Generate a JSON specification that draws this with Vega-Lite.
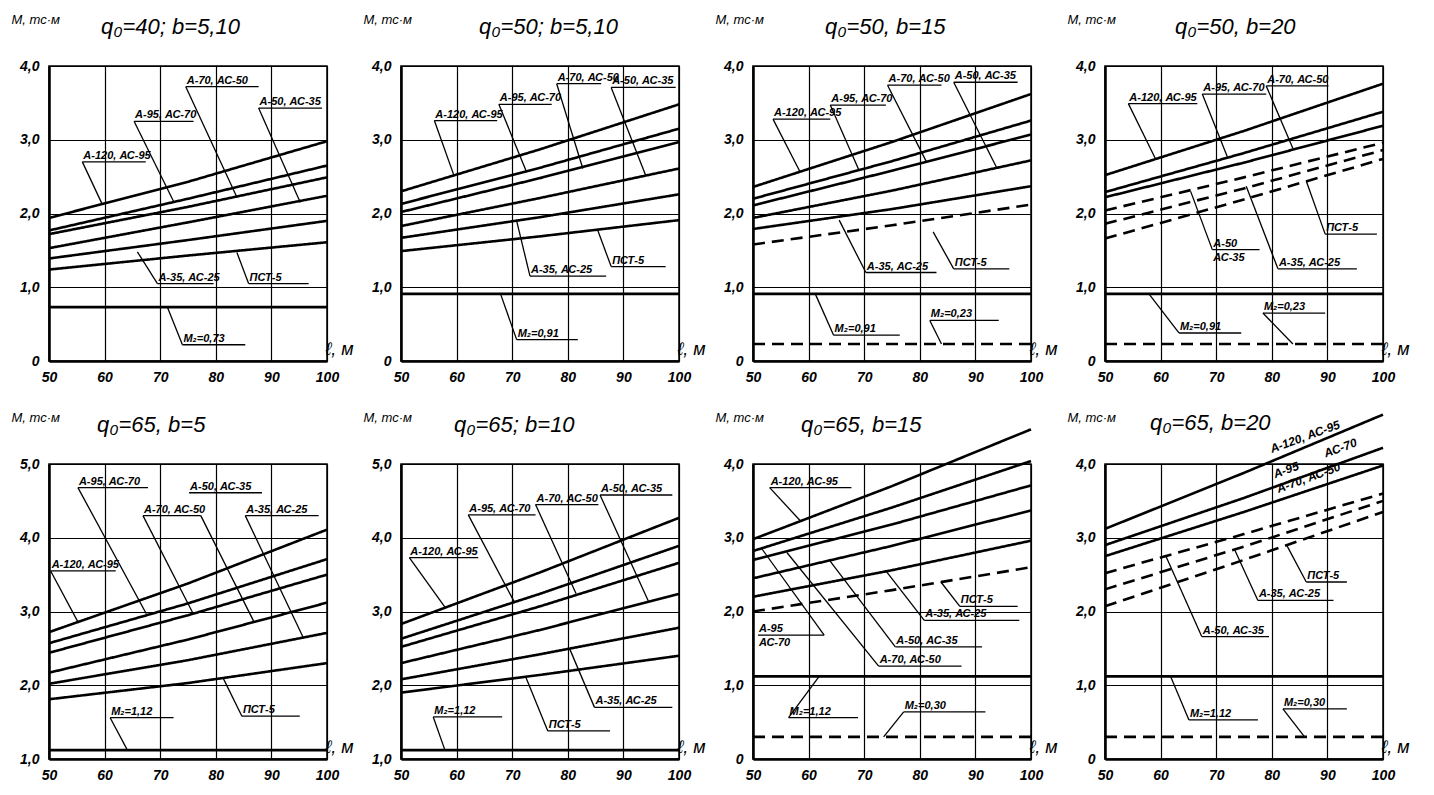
{
  "$schema": "https://vega.github.io/schema/vega-lite/v6.json",
  "padding": {"left": 10, "top": 12, "right": 5, "bottom": 5},
  "background": "white",
  "datasets": {
    "curves": [
      {"p":1,"s":"A120","k":"solid","l":50,"M":1.94},{"p":1,"s":"A120","k":"solid","l":75,"M":2.43},{"p":1,"s":"A120","k":"solid","l":100,"M":2.98},
      {"p":1,"s":"A95","k":"solid","l":50,"M":1.77},{"p":1,"s":"A95","k":"solid","l":75,"M":2.20},{"p":1,"s":"A95","k":"solid","l":100,"M":2.65},
      {"p":1,"s":"A70","k":"solid","l":50,"M":1.72},{"p":1,"s":"A70","k":"solid","l":75,"M":2.09},{"p":1,"s":"A70","k":"solid","l":100,"M":2.49},
      {"p":1,"s":"A50","k":"solid","l":50,"M":1.53},{"p":1,"s":"A50","k":"solid","l":75,"M":1.88},{"p":1,"s":"A50","k":"solid","l":100,"M":2.24},
      {"p":1,"s":"A35","k":"solid","l":50,"M":1.39},{"p":1,"s":"A35","k":"solid","l":75,"M":1.64},{"p":1,"s":"A35","k":"solid","l":100,"M":1.90},
      {"p":1,"s":"PST","k":"solid","l":50,"M":1.24},{"p":1,"s":"PST","k":"solid","l":75,"M":1.43},{"p":1,"s":"PST","k":"solid","l":100,"M":1.61},
      {"p":1,"s":"M2","k":"solid","l":50,"M":0.73},{"p":1,"s":"M2","k":"solid","l":100,"M":0.73},

      {"p":2,"s":"A120","k":"solid","l":50,"M":2.30},{"p":2,"s":"A120","k":"solid","l":75,"M":2.87},{"p":2,"s":"A120","k":"solid","l":100,"M":3.48},
      {"p":2,"s":"A95","k":"solid","l":50,"M":2.13},{"p":2,"s":"A95","k":"solid","l":75,"M":2.62},{"p":2,"s":"A95","k":"solid","l":100,"M":3.15},
      {"p":2,"s":"A70","k":"solid","l":50,"M":2.02},{"p":2,"s":"A70","k":"solid","l":75,"M":2.48},{"p":2,"s":"A70","k":"solid","l":100,"M":2.97},
      {"p":2,"s":"A50","k":"solid","l":50,"M":1.83},{"p":2,"s":"A50","k":"solid","l":75,"M":2.21},{"p":2,"s":"A50","k":"solid","l":100,"M":2.61},
      {"p":2,"s":"A35","k":"solid","l":50,"M":1.67},{"p":2,"s":"A35","k":"solid","l":75,"M":1.95},{"p":2,"s":"A35","k":"solid","l":100,"M":2.26},
      {"p":2,"s":"PST","k":"solid","l":50,"M":1.49},{"p":2,"s":"PST","k":"solid","l":75,"M":1.69},{"p":2,"s":"PST","k":"solid","l":100,"M":1.91},
      {"p":2,"s":"M2","k":"solid","l":50,"M":0.91},{"p":2,"s":"M2","k":"solid","l":100,"M":0.91},

      {"p":3,"s":"A120","k":"solid","l":50,"M":2.36},{"p":3,"s":"A120","k":"solid","l":75,"M":2.97},{"p":3,"s":"A120","k":"solid","l":100,"M":3.62},
      {"p":3,"s":"A95","k":"solid","l":50,"M":2.20},{"p":3,"s":"A95","k":"solid","l":75,"M":2.71},{"p":3,"s":"A95","k":"solid","l":100,"M":3.26},
      {"p":3,"s":"A70","k":"solid","l":50,"M":2.11},{"p":3,"s":"A70","k":"solid","l":75,"M":2.58},{"p":3,"s":"A70","k":"solid","l":100,"M":3.07},
      {"p":3,"s":"A50","k":"solid","l":50,"M":1.94},{"p":3,"s":"A50","k":"solid","l":75,"M":2.31},{"p":3,"s":"A50","k":"solid","l":100,"M":2.72},
      {"p":3,"s":"A35","k":"solid","l":50,"M":1.79},{"p":3,"s":"A35","k":"solid","l":75,"M":2.06},{"p":3,"s":"A35","k":"solid","l":100,"M":2.37},
      {"p":3,"s":"PST","k":"dashed","l":50,"M":1.58},{"p":3,"s":"PST","k":"dashed","l":75,"M":1.84},{"p":3,"s":"PST","k":"dashed","l":100,"M":2.12},
      {"p":3,"s":"M2","k":"solid","l":50,"M":0.91},{"p":3,"s":"M2","k":"solid","l":100,"M":0.91},
      {"p":3,"s":"M2b","k":"dashed","l":50,"M":0.23},{"p":3,"s":"M2b","k":"dashed","l":100,"M":0.23},

      {"p":4,"s":"A120","k":"solid","l":50,"M":2.52},{"p":4,"s":"A120","k":"solid","l":75,"M":3.12},{"p":4,"s":"A120","k":"solid","l":100,"M":3.76},
      {"p":4,"s":"A95","k":"solid","l":50,"M":2.29},{"p":4,"s":"A95","k":"solid","l":75,"M":2.82},{"p":4,"s":"A95","k":"solid","l":100,"M":3.38},
      {"p":4,"s":"A70","k":"solid","l":50,"M":2.22},{"p":4,"s":"A70","k":"solid","l":75,"M":2.69},{"p":4,"s":"A70","k":"solid","l":100,"M":3.19},
      {"p":4,"s":"A50","k":"dashed","l":50,"M":2.04},{"p":4,"s":"A50","k":"dashed","l":75,"M":2.49},{"p":4,"s":"A50","k":"dashed","l":100,"M":2.96},
      {"p":4,"s":"A35","k":"dashed","l":50,"M":1.86},{"p":4,"s":"A35","k":"dashed","l":75,"M":2.34},{"p":4,"s":"A35","k":"dashed","l":100,"M":2.86},
      {"p":4,"s":"PST","k":"dashed","l":50,"M":1.66},{"p":4,"s":"PST","k":"dashed","l":75,"M":2.19},{"p":4,"s":"PST","k":"dashed","l":100,"M":2.74},
      {"p":4,"s":"M2","k":"solid","l":50,"M":0.91},{"p":4,"s":"M2","k":"solid","l":100,"M":0.91},
      {"p":4,"s":"M2b","k":"dashed","l":50,"M":0.23},{"p":4,"s":"M2b","k":"dashed","l":100,"M":0.23},

      {"p":5,"s":"A120","k":"solid","l":50,"M":2.72},{"p":5,"s":"A120","k":"solid","l":75,"M":3.38},{"p":5,"s":"A120","k":"solid","l":100,"M":4.11},
      {"p":5,"s":"A95","k":"solid","l":50,"M":2.57},{"p":5,"s":"A95","k":"solid","l":75,"M":3.11},{"p":5,"s":"A95","k":"solid","l":100,"M":3.71},
      {"p":5,"s":"A70","k":"solid","l":50,"M":2.44},{"p":5,"s":"A70","k":"solid","l":75,"M":2.95},{"p":5,"s":"A70","k":"solid","l":100,"M":3.50},
      {"p":5,"s":"A50","k":"solid","l":50,"M":2.17},{"p":5,"s":"A50","k":"solid","l":75,"M":2.62},{"p":5,"s":"A50","k":"solid","l":100,"M":3.12},
      {"p":5,"s":"A35","k":"solid","l":50,"M":2.02},{"p":5,"s":"A35","k":"solid","l":75,"M":2.34},{"p":5,"s":"A35","k":"solid","l":100,"M":2.71},
      {"p":5,"s":"PST","k":"solid","l":50,"M":1.81},{"p":5,"s":"PST","k":"solid","l":75,"M":2.03},{"p":5,"s":"PST","k":"solid","l":100,"M":2.30},
      {"p":5,"s":"M2","k":"solid","l":50,"M":1.12},{"p":5,"s":"M2","k":"solid","l":100,"M":1.12},

      {"p":6,"s":"A120","k":"solid","l":50,"M":2.83},{"p":6,"s":"A120","k":"solid","l":75,"M":3.53},{"p":6,"s":"A120","k":"solid","l":100,"M":4.27},
      {"p":6,"s":"A95","k":"solid","l":50,"M":2.63},{"p":6,"s":"A95","k":"solid","l":75,"M":3.24},{"p":6,"s":"A95","k":"solid","l":100,"M":3.89},
      {"p":6,"s":"A70","k":"solid","l":50,"M":2.52},{"p":6,"s":"A70","k":"solid","l":75,"M":3.07},{"p":6,"s":"A70","k":"solid","l":100,"M":3.66},
      {"p":6,"s":"A50","k":"solid","l":50,"M":2.30},{"p":6,"s":"A50","k":"solid","l":75,"M":2.75},{"p":6,"s":"A50","k":"solid","l":100,"M":3.24},
      {"p":6,"s":"A35","k":"solid","l":50,"M":2.08},{"p":6,"s":"A35","k":"solid","l":75,"M":2.42},{"p":6,"s":"A35","k":"solid","l":100,"M":2.78},
      {"p":6,"s":"PST","k":"solid","l":50,"M":1.90},{"p":6,"s":"PST","k":"solid","l":75,"M":2.14},{"p":6,"s":"PST","k":"solid","l":100,"M":2.40},
      {"p":6,"s":"M2","k":"solid","l":50,"M":1.12},{"p":6,"s":"M2","k":"solid","l":100,"M":1.12},

      {"p":7,"s":"A120","k":"solid","l":50,"M":2.98},{"p":7,"s":"A120","k":"solid","l":75,"M":3.70},{"p":7,"s":"A120","k":"solid","l":100,"M":4.47},
      {"p":7,"s":"A95","k":"solid","l":50,"M":2.82},{"p":7,"s":"A95","k":"solid","l":75,"M":3.41},{"p":7,"s":"A95","k":"solid","l":100,"M":4.04},
      {"p":7,"s":"A70","k":"solid","l":50,"M":2.70},{"p":7,"s":"A70","k":"solid","l":75,"M":3.18},{"p":7,"s":"A70","k":"solid","l":100,"M":3.71},
      {"p":7,"s":"A50","k":"solid","l":50,"M":2.45},{"p":7,"s":"A50","k":"solid","l":75,"M":2.89},{"p":7,"s":"A50","k":"solid","l":100,"M":3.37},
      {"p":7,"s":"A35","k":"solid","l":50,"M":2.20},{"p":7,"s":"A35","k":"solid","l":75,"M":2.56},{"p":7,"s":"A35","k":"solid","l":100,"M":2.96},
      {"p":7,"s":"PST","k":"dashed","l":50,"M":2.00},{"p":7,"s":"PST","k":"dashed","l":75,"M":2.29},{"p":7,"s":"PST","k":"dashed","l":100,"M":2.60},
      {"p":7,"s":"M2","k":"solid","l":50,"M":1.12},{"p":7,"s":"M2","k":"solid","l":100,"M":1.12},
      {"p":7,"s":"M2b","k":"dashed","l":50,"M":0.30},{"p":7,"s":"M2b","k":"dashed","l":100,"M":0.30},

      {"p":8,"s":"A120","k":"solid","l":50,"M":3.12},{"p":8,"s":"A120","k":"solid","l":75,"M":3.88},{"p":8,"s":"A120","k":"solid","l":100,"M":4.67},
      {"p":8,"s":"A95","k":"solid","l":50,"M":2.90},{"p":8,"s":"A95","k":"solid","l":75,"M":3.54},{"p":8,"s":"A95","k":"solid","l":100,"M":4.22},
      {"p":8,"s":"A70","k":"solid","l":50,"M":2.75},{"p":8,"s":"A70","k":"solid","l":75,"M":3.35},{"p":8,"s":"A70","k":"solid","l":100,"M":3.98},
      {"p":8,"s":"A50","k":"dashed","l":50,"M":2.52},{"p":8,"s":"A50","k":"dashed","l":75,"M":3.05},{"p":8,"s":"A50","k":"dashed","l":100,"M":3.60},
      {"p":8,"s":"A35","k":"dashed","l":50,"M":2.30},{"p":8,"s":"A35","k":"dashed","l":75,"M":2.88},{"p":8,"s":"A35","k":"dashed","l":100,"M":3.50},
      {"p":8,"s":"PST","k":"dashed","l":50,"M":2.07},{"p":8,"s":"PST","k":"dashed","l":75,"M":2.70},{"p":8,"s":"PST","k":"dashed","l":100,"M":3.35},
      {"p":8,"s":"M2","k":"solid","l":50,"M":1.12},{"p":8,"s":"M2","k":"solid","l":100,"M":1.12},
      {"p":8,"s":"M2b","k":"dashed","l":50,"M":0.30},{"p":8,"s":"M2b","k":"dashed","l":100,"M":0.30}
    ],
    "notes": [
      {"p":1,"lab":"А-120, АС-95","u1":56.0,"u2":67.4,"uy":2.70,"ax":56.0,"ay":2.70,"tx":59.6,"ty":2.12},
      {"p":1,"lab":"А-95, АС-70","u1":65.3,"u2":76.0,"uy":3.25,"ax":65.3,"ay":3.25,"tx":72.5,"ty":2.15},
      {"p":1,"lab":"А-70, АС-50","u1":74.6,"u2":87.7,"uy":3.72,"ax":74.6,"ay":3.72,"tx":83.8,"ty":2.22},
      {"p":1,"lab":"А-50, АС-35","u1":87.7,"u2":99.1,"uy":3.43,"ax":87.7,"ay":3.43,"tx":95.2,"ty":2.15},
      {"p":1,"lab":"А-35, АС-25","u1":69.5,"u2":79.6,"uy":1.05,"ax":69.5,"ay":1.05,"tx":65.9,"ty":1.48},
      {"p":1,"lab":"ПСТ-5","u1":85.9,"u2":96.7,"uy":1.05,"ax":85.9,"ay":1.05,"tx":83.8,"ty":1.47},
      {"p":1,"lab":"M₂=0,73","u1":74.0,"u2":85.3,"uy":0.22,"ax":74.0,"ay":0.22,"tx":71.3,"ty":0.73},

      {"p":2,"lab":"А-120, АС-95","u1":56.0,"u2":67.3,"uy":3.26,"ax":56.0,"ay":3.26,"tx":59.5,"ty":2.52},
      {"p":2,"lab":"А-95, АС-70","u1":67.6,"u2":77.1,"uy":3.48,"ax":67.6,"ay":3.48,"tx":72.6,"ty":2.56},
      {"p":2,"lab":"А-70, АС-50","u1":78.0,"u2":86.0,"uy":3.76,"ax":78.0,"ay":3.76,"tx":82.7,"ty":2.61},
      {"p":2,"lab":"А-50, АС-35","u1":87.8,"u2":99.4,"uy":3.71,"ax":87.8,"ay":3.71,"tx":94.0,"ty":2.52},
      {"p":2,"lab":"А-35, АС-25","u1":73.2,"u2":86.9,"uy":1.15,"ax":73.2,"ay":1.15,"tx":70.8,"ty":1.90},
      {"p":2,"lab":"ПСТ-5","u1":87.8,"u2":97.6,"uy":1.28,"ax":87.8,"ay":1.28,"tx":85.4,"ty":1.77},
      {"p":2,"lab":"M₂=0,91","u1":70.8,"u2":81.8,"uy":0.29,"ax":70.8,"ay":0.29,"tx":67.9,"ty":0.91},

      {"p":3,"lab":"А-120, АС-95","u1":53.6,"u2":63.9,"uy":3.28,"ax":53.6,"ay":3.28,"tx":58.5,"ty":2.56},
      {"p":3,"lab":"А-95, АС-70","u1":63.9,"u2":73.9,"uy":3.47,"ax":63.9,"ay":3.47,"tx":69.1,"ty":2.58},
      {"p":3,"lab":"А-70, АС-50","u1":74.2,"u2":83.9,"uy":3.74,"ax":74.2,"ay":3.74,"tx":81.2,"ty":2.70},
      {"p":3,"lab":"А-50, АС-35","u1":86.1,"u2":97.6,"uy":3.78,"ax":86.1,"ay":3.78,"tx":93.9,"ty":2.61},
      {"p":3,"lab":"А-35, АС-25","u1":70.3,"u2":83.0,"uy":1.20,"ax":70.3,"ay":1.20,"tx":65.5,"ty":1.91},
      {"p":3,"lab":"ПСТ-5","u1":86.1,"u2":96.1,"uy":1.25,"ax":86.1,"ay":1.25,"tx":82.4,"ty":1.75},
      {"p":3,"lab":"M₂=0,91","u1":64.5,"u2":76.4,"uy":0.35,"ax":64.5,"ay":0.35,"tx":61.2,"ty":0.91},
      {"p":3,"lab":"M₂=0,23","u1":81.8,"u2":94.2,"uy":0.55,"ax":81.8,"ay":0.55,"tx":83.9,"ty":0.23},

      {"p":4,"lab":"А-120, АС-95","u1":54.2,"u2":66.6,"uy":3.49,"ax":54.2,"ay":3.49,"tx":59.1,"ty":2.74},
      {"p":4,"lab":"А-95, АС-70","u1":67.5,"u2":79.0,"uy":3.62,"ax":67.5,"ay":3.62,"tx":72.0,"ty":2.77},
      {"p":4,"lab":"А-70, АС-50","u1":79.0,"u2":90.2,"uy":3.73,"ax":79.0,"ay":3.73,"tx":83.8,"ty":2.88},
      {"p":4,"lab":"А-50","lab2":"АС-35","u1":69.3,"u2":77.8,"uy":1.51,"ax":69.3,"ay":1.51,"tx":65.4,"ty":2.30},
      {"p":4,"lab":"А-35, АС-25","u1":81.1,"u2":95.3,"uy":1.25,"ax":81.1,"ay":1.25,"tx":75.4,"ty":2.37},
      {"p":4,"lab":"ПСТ-5","u1":89.6,"u2":98.9,"uy":1.72,"ax":89.6,"ay":1.72,"tx":86.2,"ty":2.44},
      {"p":4,"lab":"M₂=0,91","u1":63.3,"u2":74.5,"uy":0.38,"ax":63.3,"ay":0.38,"tx":57.9,"ty":0.91},
      {"p":4,"lab":"M₂=0,23","u1":78.4,"u2":89.6,"uy":0.65,"ax":78.4,"ay":0.65,"tx":83.8,"ty":0.23},

      {"p":5,"lab":"А-95, АС-70","u1":55.2,"u2":67.8,"uy":4.68,"ax":55.2,"ay":4.68,"tx":67.5,"ty":2.97},
      {"p":5,"lab":"А-50, АС-35","u1":75.2,"u2":88.3,"uy":4.61,"ax":77.3,"ay":4.30,"tx":86.8,"ty":2.87},
      {"p":5,"lab":"А-70, АС-50","u1":66.9,"u2":77.3,"uy":4.30,"ax":66.9,"ay":4.30,"tx":75.8,"ty":2.99},
      {"p":5,"lab":"А-35, АС-25","u1":85.3,"u2":98.5,"uy":4.30,"ax":85.3,"ay":4.30,"tx":95.7,"ty":2.65},
      {"p":5,"lab":"А-120, АС-95","u1":50.3,"u2":62.0,"uy":3.55,"ax":50.3,"ay":3.55,"tx":55.2,"ty":2.86},
      {"p":5,"lab":"ПСТ-5","u1":84.7,"u2":95.1,"uy":1.58,"ax":84.7,"ay":1.58,"tx":81.3,"ty":2.10},
      {"p":5,"lab":"M₂=1,12","u1":61.0,"u2":72.4,"uy":1.56,"ax":61.0,"ay":1.56,"tx":64.1,"ty":1.12},

      {"p":6,"lab":"А-120, АС-95","u1":51.5,"u2":63.9,"uy":3.73,"ax":51.5,"ay":3.73,"tx":57.9,"ty":3.06},
      {"p":6,"lab":"А-95, АС-70","u1":62.1,"u2":74.2,"uy":4.31,"ax":62.1,"ay":4.31,"tx":70.3,"ty":3.14},
      {"p":6,"lab":"А-70, АС-50","u1":74.2,"u2":85.5,"uy":4.45,"ax":74.2,"ay":4.45,"tx":81.5,"ty":3.24},
      {"p":6,"lab":"А-50, АС-35","u1":85.8,"u2":98.8,"uy":4.58,"ax":85.8,"ay":4.58,"tx":94.5,"ty":3.14},
      {"p":6,"lab":"А-35, АС-25","u1":84.8,"u2":98.8,"uy":1.70,"ax":84.8,"ay":1.70,"tx":80.3,"ty":2.50},
      {"p":6,"lab":"ПСТ-5","u1":76.4,"u2":87.6,"uy":1.38,"ax":76.4,"ay":1.38,"tx":72.4,"ty":2.12},
      {"p":6,"lab":"M₂=1,12","u1":55.8,"u2":68.2,"uy":1.57,"ax":55.8,"ay":1.57,"tx":57.9,"ty":1.12},

      {"p":7,"lab":"А-120, АС-95","u1":53.0,"u2":67.7,"uy":3.68,"ax":53.0,"ay":3.68,"tx":58.5,"ty":3.23},
      {"p":7,"lab":"А-95","lab2":"АС-70","u1":50.9,"u2":62.8,"uy":1.68,"ax":62.8,"ay":1.68,"tx":51.5,"ty":2.86},
      {"p":7,"lab":"А-70, АС-50","u1":72.6,"u2":87.5,"uy":1.26,"ax":72.6,"ay":1.26,"tx":56.1,"ty":2.80},
      {"p":7,"lab":"А-50, АС-35","u1":75.6,"u2":91.2,"uy":1.52,"ax":75.6,"ay":1.52,"tx":63.7,"ty":2.70},
      {"p":7,"lab":"А-35, АС-25","u1":80.8,"u2":97.9,"uy":1.88,"ax":80.8,"ay":1.88,"tx":73.8,"ty":2.56},
      {"p":7,"lab":"ПСТ-5","u1":87.2,"u2":97.6,"uy":2.07,"ax":87.2,"ay":2.07,"tx":83.8,"ty":2.40},
      {"p":7,"lab":"M₂=1,12","u1":56.4,"u2":68.9,"uy":0.56,"ax":56.4,"ay":0.56,"tx":61.9,"ty":1.12},
      {"p":7,"lab":"M₂=0,30","u1":77.1,"u2":91.8,"uy":0.64,"ax":77.1,"ay":0.64,"tx":73.5,"ty":0.30},

      {"p":8,"lab":"А-50, АС-35","u1":67.4,"u2":79.5,"uy":1.66,"ax":67.4,"ay":1.66,"tx":60.9,"ty":2.76},
      {"p":8,"lab":"А-35, АС-25","u1":77.5,"u2":91.1,"uy":2.15,"ax":77.5,"ay":2.15,"tx":73.3,"ty":2.84},
      {"p":8,"lab":"ПСТ-5","u1":86.2,"u2":93.5,"uy":2.40,"ax":86.2,"ay":2.40,"tx":82.6,"ty":2.91},
      {"p":8,"lab":"M₂=1,12","u1":65.1,"u2":77.5,"uy":0.53,"ax":65.1,"ay":0.53,"tx":61.8,"ty":1.12},
      {"p":8,"lab":"M₂=0,30","u1":82.0,"u2":93.5,"uy":0.68,"ax":82.0,"ay":0.68,"tx":85.9,"ty":0.30}
    ],
    "tags": [
      {"p":8,"lab":"А-120, АС-95","l":80.2,"M":4.11},
      {"p":8,"lab":"АС-70","l":89.9,"M":4.05},
      {"p":8,"lab":"А-95","l":80.8,"M":3.77},
      {"p":8,"lab":"А-70, АС-50","l":81.4,"M":3.57}
    ]
  },
  "columns": 4,
  "bounds": "flush",
  "spacing": {"row": 103, "column": 74},
  "concat": [
    {"width":278,"height":295,"title":{"text":"q₀=40; b=5,10","dx":52},
     "layer":[
      {"data":{"name":"curves"},"transform":[{"filter":"datum.p==1"}],"mark":{"type":"line","color":"black","strokeWidth":2.6},
       "encoding":{"x":{"field":"l","type":"quantitative","scale":{"domain":[50,100],"nice":false},"axis":{"values":[50,60,70,80,90,100],"title":"ℓ, м"}},
        "y":{"field":"M","type":"quantitative","scale":{"domain":[0,4],"nice":false},"axis":{"values":[0,1,2,3,4],"title":"М, тс·м","labelExpr":"datum.value==0 ? '0' : replace(format(datum.value,'.1f'),'.',',')"}},
        "detail":{"field":"s"},"strokeDash":{"field":"k","type":"nominal","scale":{"domain":["solid","dashed"],"range":[[1,0],[12,7]]},"legend":null}}},
      {"data":{"name":"notes"},"transform":[{"filter":"datum.p==1"}],"mark":{"type":"rule","color":"black","strokeWidth":1.3},"encoding":{"x":{"field":"u1","type":"quantitative"},"x2":{"field":"u2"},"y":{"field":"uy","type":"quantitative"}}},
      {"data":{"name":"notes"},"transform":[{"filter":"datum.p==1"}],"mark":{"type":"rule","color":"black","strokeWidth":1.3},"encoding":{"x":{"field":"ax","type":"quantitative"},"x2":{"field":"tx"},"y":{"field":"ay","type":"quantitative"},"y2":{"field":"ty"}}},
      {"data":{"name":"notes"},"transform":[{"filter":"datum.p==1"}],"mark":{"type":"text","align":"left","baseline":"bottom","dx":1,"dy":-1},"encoding":{"x":{"field":"u1","type":"quantitative"},"y":{"field":"uy","type":"quantitative"},"text":{"field":"lab"}}}
     ]},
    {"width":278,"height":295,"title":{"text":"q₀=50; b=5,10","dx":78},
     "layer":[
      {"data":{"name":"curves"},"transform":[{"filter":"datum.p==2"}],"mark":{"type":"line","color":"black","strokeWidth":2.6},
       "encoding":{"x":{"field":"l","type":"quantitative","scale":{"domain":[50,100],"nice":false},"axis":{"values":[50,60,70,80,90,100],"title":"ℓ, м"}},
        "y":{"field":"M","type":"quantitative","scale":{"domain":[0,4],"nice":false},"axis":{"values":[0,1,2,3,4],"title":"М, тс·м","labelExpr":"datum.value==0 ? '0' : replace(format(datum.value,'.1f'),'.',',')"}},
        "detail":{"field":"s"},"strokeDash":{"field":"k","type":"nominal","scale":{"domain":["solid","dashed"],"range":[[1,0],[12,7]]},"legend":null}}},
      {"data":{"name":"notes"},"transform":[{"filter":"datum.p==2"}],"mark":{"type":"rule","color":"black","strokeWidth":1.3},"encoding":{"x":{"field":"u1","type":"quantitative"},"x2":{"field":"u2"},"y":{"field":"uy","type":"quantitative"}}},
      {"data":{"name":"notes"},"transform":[{"filter":"datum.p==2"}],"mark":{"type":"rule","color":"black","strokeWidth":1.3},"encoding":{"x":{"field":"ax","type":"quantitative"},"x2":{"field":"tx"},"y":{"field":"ay","type":"quantitative"},"y2":{"field":"ty"}}},
      {"data":{"name":"notes"},"transform":[{"filter":"datum.p==2"}],"mark":{"type":"text","align":"left","baseline":"bottom","dx":1,"dy":-1},"encoding":{"x":{"field":"u1","type":"quantitative"},"y":{"field":"uy","type":"quantitative"},"text":{"field":"lab"}}}
     ]},
    {"width":278,"height":295,"title":{"text":"q₀=50, b=15","dx":72},
     "layer":[
      {"data":{"name":"curves"},"transform":[{"filter":"datum.p==3"}],"mark":{"type":"line","color":"black","strokeWidth":2.6},
       "encoding":{"x":{"field":"l","type":"quantitative","scale":{"domain":[50,100],"nice":false},"axis":{"values":[50,60,70,80,90,100],"title":"ℓ, м"}},
        "y":{"field":"M","type":"quantitative","scale":{"domain":[0,4],"nice":false},"axis":{"values":[0,1,2,3,4],"title":"М, тс·м","labelExpr":"datum.value==0 ? '0' : replace(format(datum.value,'.1f'),'.',',')"}},
        "detail":{"field":"s"},"strokeDash":{"field":"k","type":"nominal","scale":{"domain":["solid","dashed"],"range":[[1,0],[12,7]]},"legend":null}}},
      {"data":{"name":"notes"},"transform":[{"filter":"datum.p==3"}],"mark":{"type":"rule","color":"black","strokeWidth":1.3},"encoding":{"x":{"field":"u1","type":"quantitative"},"x2":{"field":"u2"},"y":{"field":"uy","type":"quantitative"}}},
      {"data":{"name":"notes"},"transform":[{"filter":"datum.p==3"}],"mark":{"type":"rule","color":"black","strokeWidth":1.3},"encoding":{"x":{"field":"ax","type":"quantitative"},"x2":{"field":"tx"},"y":{"field":"ay","type":"quantitative"},"y2":{"field":"ty"}}},
      {"data":{"name":"notes"},"transform":[{"filter":"datum.p==3"}],"mark":{"type":"text","align":"left","baseline":"bottom","dx":1,"dy":-1},"encoding":{"x":{"field":"u1","type":"quantitative"},"y":{"field":"uy","type":"quantitative"},"text":{"field":"lab"}}}
     ]},
    {"width":278,"height":295,"title":{"text":"q₀=50, b=20","dx":70},
     "layer":[
      {"data":{"name":"curves"},"transform":[{"filter":"datum.p==4"}],"mark":{"type":"line","color":"black","strokeWidth":2.6},
       "encoding":{"x":{"field":"l","type":"quantitative","scale":{"domain":[50,100],"nice":false},"axis":{"values":[50,60,70,80,90,100],"title":"ℓ, м"}},
        "y":{"field":"M","type":"quantitative","scale":{"domain":[0,4],"nice":false},"axis":{"values":[0,1,2,3,4],"title":"М, тс·м","labelExpr":"datum.value==0 ? '0' : replace(format(datum.value,'.1f'),'.',',')"}},
        "detail":{"field":"s"},"strokeDash":{"field":"k","type":"nominal","scale":{"domain":["solid","dashed"],"range":[[1,0],[12,7]]},"legend":null}}},
      {"data":{"name":"notes"},"transform":[{"filter":"datum.p==4"}],"mark":{"type":"rule","color":"black","strokeWidth":1.3},"encoding":{"x":{"field":"u1","type":"quantitative"},"x2":{"field":"u2"},"y":{"field":"uy","type":"quantitative"}}},
      {"data":{"name":"notes"},"transform":[{"filter":"datum.p==4"}],"mark":{"type":"rule","color":"black","strokeWidth":1.3},"encoding":{"x":{"field":"ax","type":"quantitative"},"x2":{"field":"tx"},"y":{"field":"ay","type":"quantitative"},"y2":{"field":"ty"}}},
      {"data":{"name":"notes"},"transform":[{"filter":"datum.p==4"}],"mark":{"type":"text","align":"left","baseline":"bottom","dx":1,"dy":-1},"encoding":{"x":{"field":"u1","type":"quantitative"},"y":{"field":"uy","type":"quantitative"},"text":{"field":"lab"}}},
      {"data":{"name":"notes"},"transform":[{"filter":"datum.p==4 && isValid(datum.lab2)"}],"mark":{"type":"text","align":"left","baseline":"top","dx":1,"dy":2},"encoding":{"x":{"field":"u1","type":"quantitative"},"y":{"field":"uy","type":"quantitative"},"text":{"field":"lab2"}}}
     ]},
    {"width":278,"height":295,"title":{"text":"q₀=65, b=5","dx":48},
     "layer":[
      {"data":{"name":"curves"},"transform":[{"filter":"datum.p==5"}],"mark":{"type":"line","color":"black","strokeWidth":2.6},
       "encoding":{"x":{"field":"l","type":"quantitative","scale":{"domain":[50,100],"nice":false},"axis":{"values":[50,60,70,80,90,100],"title":"ℓ, м"}},
        "y":{"field":"M","type":"quantitative","scale":{"domain":[1,5],"nice":false,"zero":false},"axis":{"values":[1,2,3,4,5],"title":"М, тс·м","labelExpr":"datum.value==0 ? '0' : replace(format(datum.value,'.1f'),'.',',')"}},
        "detail":{"field":"s"},"strokeDash":{"field":"k","type":"nominal","scale":{"domain":["solid","dashed"],"range":[[1,0],[12,7]]},"legend":null}}},
      {"data":{"name":"notes"},"transform":[{"filter":"datum.p==5"}],"mark":{"type":"rule","color":"black","strokeWidth":1.3},"encoding":{"x":{"field":"u1","type":"quantitative"},"x2":{"field":"u2"},"y":{"field":"uy","type":"quantitative"}}},
      {"data":{"name":"notes"},"transform":[{"filter":"datum.p==5"}],"mark":{"type":"rule","color":"black","strokeWidth":1.3},"encoding":{"x":{"field":"ax","type":"quantitative"},"x2":{"field":"tx"},"y":{"field":"ay","type":"quantitative"},"y2":{"field":"ty"}}},
      {"data":{"name":"notes"},"transform":[{"filter":"datum.p==5"}],"mark":{"type":"text","align":"left","baseline":"bottom","dx":1,"dy":-1},"encoding":{"x":{"field":"u1","type":"quantitative"},"y":{"field":"uy","type":"quantitative"},"text":{"field":"lab"}}}
     ]},
    {"width":278,"height":295,"title":{"text":"q₀=65; b=10","dx":53},
     "layer":[
      {"data":{"name":"curves"},"transform":[{"filter":"datum.p==6"}],"mark":{"type":"line","color":"black","strokeWidth":2.6},
       "encoding":{"x":{"field":"l","type":"quantitative","scale":{"domain":[50,100],"nice":false},"axis":{"values":[50,60,70,80,90,100],"title":"ℓ, м"}},
        "y":{"field":"M","type":"quantitative","scale":{"domain":[1,5],"nice":false,"zero":false},"axis":{"values":[1,2,3,4,5],"title":"М, тс·м","labelExpr":"datum.value==0 ? '0' : replace(format(datum.value,'.1f'),'.',',')"}},
        "detail":{"field":"s"},"strokeDash":{"field":"k","type":"nominal","scale":{"domain":["solid","dashed"],"range":[[1,0],[12,7]]},"legend":null}}},
      {"data":{"name":"notes"},"transform":[{"filter":"datum.p==6"}],"mark":{"type":"rule","color":"black","strokeWidth":1.3},"encoding":{"x":{"field":"u1","type":"quantitative"},"x2":{"field":"u2"},"y":{"field":"uy","type":"quantitative"}}},
      {"data":{"name":"notes"},"transform":[{"filter":"datum.p==6"}],"mark":{"type":"rule","color":"black","strokeWidth":1.3},"encoding":{"x":{"field":"ax","type":"quantitative"},"x2":{"field":"tx"},"y":{"field":"ay","type":"quantitative"},"y2":{"field":"ty"}}},
      {"data":{"name":"notes"},"transform":[{"filter":"datum.p==6"}],"mark":{"type":"text","align":"left","baseline":"bottom","dx":1,"dy":-1},"encoding":{"x":{"field":"u1","type":"quantitative"},"y":{"field":"uy","type":"quantitative"},"text":{"field":"lab"}}}
     ]},
    {"width":278,"height":295,"title":{"text":"q₀=65, b=15","dx":48},
     "layer":[
      {"data":{"name":"curves"},"transform":[{"filter":"datum.p==7"}],"mark":{"type":"line","color":"black","strokeWidth":2.6},
       "encoding":{"x":{"field":"l","type":"quantitative","scale":{"domain":[50,100],"nice":false},"axis":{"values":[50,60,70,80,90,100],"title":"ℓ, м"}},
        "y":{"field":"M","type":"quantitative","scale":{"domain":[0,4],"nice":false},"axis":{"values":[0,1,2,3,4],"title":"М, тс·м","labelExpr":"datum.value==0 ? '0' : replace(format(datum.value,'.1f'),'.',',')"}},
        "detail":{"field":"s"},"strokeDash":{"field":"k","type":"nominal","scale":{"domain":["solid","dashed"],"range":[[1,0],[12,7]]},"legend":null}}},
      {"data":{"name":"notes"},"transform":[{"filter":"datum.p==7"}],"mark":{"type":"rule","color":"black","strokeWidth":1.3},"encoding":{"x":{"field":"u1","type":"quantitative"},"x2":{"field":"u2"},"y":{"field":"uy","type":"quantitative"}}},
      {"data":{"name":"notes"},"transform":[{"filter":"datum.p==7"}],"mark":{"type":"rule","color":"black","strokeWidth":1.3},"encoding":{"x":{"field":"ax","type":"quantitative"},"x2":{"field":"tx"},"y":{"field":"ay","type":"quantitative"},"y2":{"field":"ty"}}},
      {"data":{"name":"notes"},"transform":[{"filter":"datum.p==7"}],"mark":{"type":"text","align":"left","baseline":"bottom","dx":1,"dy":-1},"encoding":{"x":{"field":"u1","type":"quantitative"},"y":{"field":"uy","type":"quantitative"},"text":{"field":"lab"}}},
      {"data":{"name":"notes"},"transform":[{"filter":"datum.p==7 && isValid(datum.lab2)"}],"mark":{"type":"text","align":"left","baseline":"top","dx":1,"dy":2},"encoding":{"x":{"field":"u1","type":"quantitative"},"y":{"field":"uy","type":"quantitative"},"text":{"field":"lab2"}}}
     ]},
    {"width":278,"height":295,"title":{"text":"q₀=65, b=20","dx":45},
     "layer":[
      {"data":{"name":"curves"},"transform":[{"filter":"datum.p==8"}],"mark":{"type":"line","color":"black","strokeWidth":2.6},
       "encoding":{"x":{"field":"l","type":"quantitative","scale":{"domain":[50,100],"nice":false},"axis":{"values":[50,60,70,80,90,100],"title":"ℓ, м"}},
        "y":{"field":"M","type":"quantitative","scale":{"domain":[0,4],"nice":false},"axis":{"values":[0,1,2,3,4],"title":"М, тс·м","labelExpr":"datum.value==0 ? '0' : replace(format(datum.value,'.1f'),'.',',')"}},
        "detail":{"field":"s"},"strokeDash":{"field":"k","type":"nominal","scale":{"domain":["solid","dashed"],"range":[[1,0],[12,7]]},"legend":null}}},
      {"data":{"name":"notes"},"transform":[{"filter":"datum.p==8"}],"mark":{"type":"rule","color":"black","strokeWidth":1.3},"encoding":{"x":{"field":"u1","type":"quantitative"},"x2":{"field":"u2"},"y":{"field":"uy","type":"quantitative"}}},
      {"data":{"name":"notes"},"transform":[{"filter":"datum.p==8"}],"mark":{"type":"rule","color":"black","strokeWidth":1.3},"encoding":{"x":{"field":"ax","type":"quantitative"},"x2":{"field":"tx"},"y":{"field":"ay","type":"quantitative"},"y2":{"field":"ty"}}},
      {"data":{"name":"notes"},"transform":[{"filter":"datum.p==8"}],"mark":{"type":"text","align":"left","baseline":"bottom","dx":1,"dy":-1},"encoding":{"x":{"field":"u1","type":"quantitative"},"y":{"field":"uy","type":"quantitative"},"text":{"field":"lab"}}},
      {"data":{"name":"tags"},"mark":{"type":"text","align":"left","baseline":"bottom","angle":-20,"fontSize":12},"encoding":{"x":{"field":"l","type":"quantitative"},"y":{"field":"M","type":"quantitative"},"text":{"field":"lab"}}}
     ]}
  ],
  "config": {
    "font": "Liberation Sans",
    "view": {"stroke": "black", "strokeWidth": 1.5},
    "axis": {
      "domainColor": "black", "domainWidth": 2.5, "grid": true, "gridColor": "black", "gridOpacity": 1, "gridWidth": 1.2,
      "ticks": false, "labelFont": "Liberation Sans", "labelFontStyle": "italic", "labelFontWeight": "bold", "labelFontSize": 14,
      "labelColor": "black", "labelFlush": false, "labelOverlap": false,
      "titleFont": "Liberation Sans", "titleFontStyle": "italic", "titleFontWeight": "normal", "titleColor": "black", "titleAngle": 0
    },
    "axisX": {"labelPadding": 9, "titleFontSize": 18, "titleAlign": "left", "titleBaseline": "bottom", "titleX": 276, "titleY": -3},
    "axisY": {"labelPadding": 10, "titleFontSize": 13, "titleAlign": "left", "titleBaseline": "bottom", "titleX": -38, "titleY": -40},
    "title": {"fontSize": 22, "fontStyle": "italic", "fontWeight": "normal", "anchor": "start", "frame": "group", "offset": -26, "color": "black", "font": "Liberation Sans"},
    "text": {"font": "Liberation Sans", "fontSize": 11, "fontStyle": "italic", "fontWeight": "bold", "color": "black"}
  }
}
